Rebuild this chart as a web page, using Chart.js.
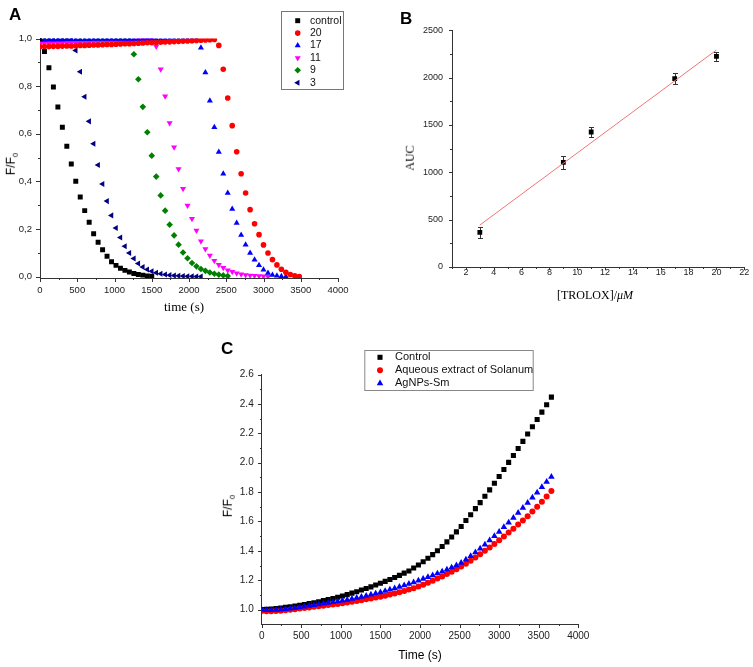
<!DOCTYPE html>
<html><head><meta charset="utf-8">
<script src="https://cdn.jsdelivr.net/npm/chart.js@4/dist/chart.umd.min.js"></script>
<style>
html,body{margin:0;padding:0;background:#fff;width:753px;height:667px;overflow:hidden;position:relative}
canvas{position:absolute}
.lbl{position:absolute;font-family:'Liberation Sans',Arial,sans-serif;font-weight:bold;font-size:17px;line-height:17px;color:#000}
.t{position:absolute;white-space:nowrap;color:#000;line-height:1.2}
.serif{font-family:'Liberation Serif','Times New Roman',serif}
.sans{font-family:'Liberation Sans',Arial,sans-serif}
.h{transform:translate(-50%,-50%)}
.v{transform:translate(-50%,-50%) rotate(-90deg)}
sub{font-size:65%;vertical-align:-0.35em;line-height:0}
</style></head><body>
<canvas id="cA" width="380" height="330" style="left:0;top:0"></canvas>
<canvas id="cB" width="373" height="330" style="left:380px;top:0"></canvas>
<canvas id="cC" width="400" height="332" style="left:200px;top:335px"></canvas>
<div class="lbl" style="left:9px;top:6px">A</div>
<div class="lbl" style="left:400px;top:10px">B</div>
<div class="lbl" style="left:221px;top:340px">C</div>
<div class="t serif h" style="left:184px;top:307px;font-size:13px">time (s)</div>
<div class="t sans v" style="left:11px;top:164px;font-size:12px">F/F<sub>0</sub></div>
<div class="t serif h" style="left:595px;top:295px;font-size:12px">[TROLOX]/<i>μM</i></div>
<div class="t serif v" style="left:410px;top:158px;font-size:12px">AUC</div>
<div class="t sans v" style="left:228px;top:506px;font-size:12px">F/F<sub>0</sub></div>
<div class="t sans h" style="left:420px;top:655px;font-size:12px">Time (s)</div>
<script>
const SANS = "'Liberation Sans', Arial, Helvetica, sans-serif";

// ---------- Panel A data ----------
const timeA = [0,60,120,180,240,300,360,420,480,540,600,660,720,780,840,900,960,1020,1080,1140,1200,1260,1320,1380,1440,1500,1560,1620,1680,1740,1800,1860,1920,1980,2040,2100,2160,2220,2280,2340,2400,2460,2520,2580,2640,2700,2760,2820,2880,2940,3000,3060,3120,3180,3240,3300,3360,3420,3480];
const ctrlA = [1.000,0.945,0.877,0.796,0.712,0.627,0.547,0.473,0.400,0.334,0.277,0.228,0.180,0.144,0.113,0.085,0.062,0.047,0.035,0.026,0.019,0.013,0.009,0.006,0.003,0.001];
const s20A = [0.965,0.966,0.966,0.967,0.967,0.968,0.969,0.969,0.970,0.971,0.971,0.972,0.973,0.973,0.974,0.975,0.975,0.976,0.977,0.978,0.978,0.979,0.980,0.981,0.982,0.982,0.983,0.984,0.985,0.986,0.987,0.988,0.989,0.990,0.991,0.992,0.993,0.994,0.995,0.996,
  0.971,0.871,0.750,0.634,0.524,0.432,0.351,0.281,0.222,0.176,0.133,0.099,0.071,0.049,0.031,0.018,0.009,0.003,0.000];
const s17A = [0.995,0.995,0.996,0.996,0.996,0.996,0.997,0.997,0.997,0.997,0.997,0.997,0.998,0.998,0.998,0.998,0.998,0.998,0.998,0.998,0.998,0.998,0.998,0.998,0.998,0.998,0.998,0.998,0.998,0.998,0.998,0.998,0.998,0.998,0.998,0.998,
  0.961,0.857,0.738,0.627,0.523,0.432,0.351,0.284,0.225,0.175,0.134,0.099,0.071,0.048,0.029,0.015,0.007,0.003,0.001,0.000];
const s11A = [0.978,0.978,0.979,0.979,0.980,0.980,0.981,0.981,0.982,0.982,0.983,0.983,0.984,0.985,0.985,0.986,0.987,0.988,0.989,0.990,0.991,0.992,0.993,0.994,0.995,0.996,
  0.966,0.871,0.757,0.645,0.543,0.452,0.369,0.299,0.243,0.193,0.148,0.116,0.088,0.066,0.050,0.037,0.027,0.020,0.014,0.010,0.007,0.005,0.003,0.002,0.001,0.000];
const s9A = [0.984,0.985,0.985,0.986,0.986,0.986,0.987,0.987,0.987,0.988,0.988,0.988,0.989,0.989,0.989,0.990,0.990,0.990,0.991,0.991,0.991,
  0.934,0.829,0.713,0.606,0.508,0.420,0.341,0.277,0.218,0.173,0.134,0.101,0.077,0.057,0.043,0.032,0.024,0.017,0.012,0.008,0.005,0.002];
const s3A = [0.993,0.993,0.994,0.994,0.994,0.995,0.995,0.995,
  0.950,0.860,0.755,0.652,0.558,0.469,0.389,0.317,0.257,0.204,0.164,0.127,0.099,0.076,0.055,0.040,0.030,0.022,0.016,0.012,0.009,0.006,0.004,0.003,0.002,0.001,0.001,0.000,0.000];
const ticksTimeA = [0,500,1000,1500,2000,2500,3000,3500,4000];
const minorTimeA = [250,750,1250,1750,2250,2750,3250,3750];
const ticksFA = [0,0.2,0.4,0.6,0.8,1.0];
const minorFA = [0.1,0.3,0.5,0.7,0.9];

// ---------- Panel B data ----------
const concB = [3,9,11,17,20];
const aucB = [366,1105,1426,1989,2225];
const errB = [55,65,48,58,50];
const fitXB = [3,20];
const fitYB = [443,2292];
const ticksConcB = [2,4,6,8,10,12,14,16,18,20,22];
const minorConcB = [1,3,5,7,9,11,13,15,17,19,21];
const ticksAucB = [0,500,1000,1500,2000,2500];
const minorAucB = [250,750,1250,1750,2250];

// ---------- Panel C data ----------
const timeC = [0,60,120,180,240,300,360,420,480,540,600,660,720,780,840,900,960,1020,1080,1140,1200,1260,1320,1380,1440,1500,1560,1620,1680,1740,1800,1860,1920,1980,2040,2100,2160,2220,2280,2340,2400,2460,2520,2580,2640,2700,2760,2820,2880,2940,3000,3060,3120,3180,3240,3300,3360,3420,3480,3540,3600,3660];
const ctrlC = [1.000,1.002,1.004,1.007,1.011,1.015,1.019,1.024,1.029,1.035,1.041,1.047,1.054,1.061,1.068,1.076,1.084,1.093,1.102,1.112,1.122,1.133,1.144,1.155,1.167,1.179,1.192,1.205,1.219,1.233,1.248,1.263,1.283,1.304,1.326,1.349,1.374,1.401,1.430,1.461,1.494,1.529,1.566,1.606,1.646,1.687,1.728,1.771,1.815,1.860,1.906,1.954,2.002,2.049,2.096,2.145,2.195,2.244,2.294,2.344,2.394,2.446];
const aqC = [0.990,0.988,0.988,0.990,0.993,0.996,0.999,1.003,1.007,1.011,1.015,1.019,1.023,1.027,1.031,1.035,1.039,1.043,1.048,1.053,1.058,1.064,1.070,1.076,1.082,1.088,1.095,1.102,1.110,1.118,1.127,1.136,1.146,1.157,1.169,1.182,1.196,1.211,1.226,1.242,1.258,1.275,1.293,1.312,1.333,1.355,1.377,1.400,1.423,1.447,1.472,1.498,1.524,1.551,1.579,1.607,1.636,1.668,1.700,1.734,1.770,1.808];
const agC = [1.000,0.997,0.996,0.998,1.000,1.003,1.007,1.011,1.016,1.021,1.026,1.031,1.036,1.041,1.046,1.051,1.056,1.061,1.067,1.073,1.080,1.087,1.094,1.102,1.110,1.118,1.127,1.136,1.145,1.155,1.165,1.175,1.186,1.197,1.209,1.221,1.233,1.246,1.259,1.273,1.287,1.302,1.319,1.340,1.364,1.390,1.416,1.443,1.471,1.500,1.530,1.561,1.592,1.625,1.659,1.692,1.727,1.762,1.797,1.834,1.870,1.904];
const ticksTimeC = [0,500,1000,1500,2000,2500,3000,3500,4000];
const minorTimeC = [250,750,1250,1750,2250,2750,3250,3750];
const ticksFC = [1.0,1.2,1.4,1.6,1.8,2.0,2.2,2.4,2.6];
const minorFC = [1.1,1.3,1.5,1.7,1.9,2.1,2.3,2.5];

// ---------- helpers ----------
function zip(xs, ys) { return ys.map((y, i) => ({x: xs[i], y: y})); }

const tickMarks = {
  id: 'tickMarks',
  afterDraw(chart, args, o) {
    if (!o || !o.axes) return;
    const ctx = chart.ctx, ca = chart.chartArea;
    ctx.save();
    ctx.strokeStyle = o.color || '#333';
    ctx.lineWidth = 1;
    Object.keys(o.axes).forEach(id => {
      const s = chart.scales[id], c = o.axes[id];
      const draw = (vals, len) => vals.forEach(v => {
        const p = Math.round(s.getPixelForValue(v)) + 0.5;
        ctx.beginPath();
        if (s.isHorizontal()) { const y = Math.round(ca.bottom); ctx.moveTo(p, y); ctx.lineTo(p, y + len); }
        else { const x = Math.round(ca.left); ctx.moveTo(x, p); ctx.lineTo(x - len, p); }
        ctx.stroke();
      });
      draw(s.ticks.map(t => t.value), c.major);
      draw(c.minor, c.minorLen);
    });
    ctx.restore();
  }
};

function symbol(ctx, ds, x, y) {
  ctx.fillStyle = ds.backgroundColor;
  ctx.strokeStyle = ds.borderColor;
  Chart.helpers.drawPoint(ctx, {pointStyle: ds.pointStyle, rotation: ds.pointRotation || 0, radius: ds.pointRadius, borderWidth: 0}, x, y);
}

const boxLegend = {
  id: 'boxLegend',
  afterDraw(chart, args, o) {
    if (!o || !o.items) return;
    const ctx = chart.ctx;
    ctx.save();
    ctx.fillStyle = '#fff';
    ctx.fillRect(o.x, o.y, o.w, o.h);
    ctx.strokeStyle = o.border || '#777';
    ctx.lineWidth = 1;
    ctx.strokeRect(o.x + 0.5, o.y + 0.5, o.w, o.h);
    ctx.font = o.font;
    ctx.textBaseline = 'middle';
    ctx.textAlign = 'left';
    o.items.forEach((idx, i) => {
      const ds = chart.data.datasets[idx];
      const y = o.y0 + i * o.dy;
      symbol(ctx, ds, o.symX, y);
      ctx.fillStyle = '#111';
      ctx.fillText(ds.label, o.textX, y);
    });
    ctx.restore();
  }
};

const errBars = {
  id: 'errBars',
  beforeDatasetsDraw(chart, args, o) {
    if (!o || !o.err) return;
    const ctx = chart.ctx, ys = chart.scales.y;
    const meta = chart.getDatasetMeta(o.dataset);
    const ds = chart.data.datasets[o.dataset];
    ctx.save();
    ctx.strokeStyle = o.color; ctx.lineWidth = 1;
    meta.data.forEach((pt, i) => {
      const v = ds.data[i].y, e = o.err[i];
      const x = Math.round(pt.x) + 0.5;
      const y1 = Math.round(ys.getPixelForValue(v + e)) + 0.5, y2 = Math.round(ys.getPixelForValue(v - e)) + 0.5;
      ctx.beginPath();
      ctx.moveTo(x, y1); ctx.lineTo(x, y2);
      ctx.moveTo(x - o.cap, y1); ctx.lineTo(x + o.cap, y1);
      ctx.moveTo(x - o.cap, y2); ctx.lineTo(x + o.cap, y2);
      ctx.stroke();
    });
    ctx.restore();
  }
};

function axis(o) {
  return {
    type: 'linear', position: o.pos, min: o.min, max: o.max,
    afterBuildTicks: s => { s.ticks = o.ticks.map(v => ({value: v})); },
    afterFit: s => { if (o.pos === 'bottom') s.height = o.size; else s.width = o.size; },
    grid: {display: true, drawOnChartArea: false, drawTicks: false},
    border: {display: true, color: '#333', width: 1},
    ticks: {padding: o.pad, color: '#222', font: {family: SANS, size: o.fs}, callback: o.fmt, maxRotation: 0, minRotation: 0, autoSkip: false},
    title: {display: false}
  };
}

function baseOpts(padding, scales, plugins) {
  return {
    animation: false, responsive: false, devicePixelRatio: 1, events: [],
    layout: {padding: padding},
    scales: scales,
    plugins: Object.assign({legend: {display: false}, tooltip: {enabled: false}}, plugins)
  };
}

function pts(label, data, style, r, color, rot) {
  return {label: label, data: data, showLine: false, pointStyle: style, pointRadius: r, pointRotation: rot || 0,
    backgroundColor: color, borderColor: color, pointBorderWidth: 0};
}

// ---------- Chart A ----------
new Chart(document.getElementById('cA'), {
  type: 'scatter',
  data: {datasets: [
    pts('control', zip(timeA, ctrlA), 'rect', 3.5, '#000000'),
    pts('20', zip(timeA, s20A), 'circle', 2.8, '#ff0000'),
    pts('17', zip(timeA, s17A), 'triangle', 3.5, '#0000ff'),
    pts('11', zip(timeA, s11A), 'triangle', 3.5, '#ff00ff', 180),
    pts('9', zip(timeA, s9A), 'rectRot', 3.3, '#008000'),
    pts('3', zip(timeA, s3A), 'triangle', 3.5, '#000080', -90)
  ]},
  options: baseOpts({left: 0, top: 38.5, right: 42, bottom: 0}, {
    x: axis({pos: 'bottom', min: 0, max: 4000, ticks: ticksTimeA, size: 52, pad: 7, fs: 9.5, fmt: v => String(v)}),
    y: axis({pos: 'left', min: -0.006, max: 1.0, ticks: ticksFA, size: 40, pad: 8, fs: 9.5, fmt: v => v.toFixed(1).replace('.', ',')})
  }, {
    tickMarks: {color: '#333', axes: {x: {major: 4, minor: minorTimeA, minorLen: 2}, y: {major: 4, minor: minorFA, minorLen: 2}}},
    boxLegend: {x: 281, y: 11, w: 62, h: 78, y0: 20.7, dy: 12.4, symX: 297.7, textX: 310, font: '10.5px ' + SANS, border: '#777', items: [0,1,2,3,4,5]}
  }),
  plugins: [tickMarks, boxLegend]
});

// ---------- Chart B ----------
new Chart(document.getElementById('cB'), {
  type: 'scatter',
  data: {datasets: [
    {label: 'fit', data: zip(fitXB, fitYB), showLine: true, pointRadius: 0, borderColor: '#f07575', borderWidth: 1, backgroundColor: '#f07575'},
    pts('AUC', zip(concB, aucB), 'rect', 3.4, '#000000')
  ]},
  options: baseOpts({left: 0, top: 30.3, right: 8.7, bottom: 0}, {
    x: axis({pos: 'bottom', min: 1, max: 22, ticks: ticksConcB, size: 63, pad: 0, fs: 9, fmt: v => String(v)}),
    y: axis({pos: 'left', min: 0, max: 2500, ticks: ticksAucB, size: 72, pad: 9, fs: 9, fmt: v => String(v)})
  }, {
    tickMarks: {color: '#333', axes: {x: {major: 3, minor: minorConcB, minorLen: 2}, y: {major: 3, minor: minorAucB, minorLen: 2}}},
    errBars: {dataset: 1, err: errB, color: '#333', cap: 2.5}
  }),
  plugins: [errBars, tickMarks]
});

// ---------- Chart C ----------
const dsC = [
  Object.assign(pts('Control', zip(timeC, ctrlC), 'rect', 3.6, '#000000'), {order: 3}),
  Object.assign(pts('Aqueous extract of Solanum', zip(timeC, aqC), 'circle', 3.0, '#ff0000'), {order: 2}),
  Object.assign(pts('AgNPs-Sm', zip(timeC, agC), 'triangle', 3.8, '#0000ff'), {order: 1})
];
new Chart(document.getElementById('cC'), {
  type: 'scatter',
  data: {datasets: dsC},
  options: baseOpts({left: 0, top: 39.5, right: 21.7, bottom: 0}, {
    x: axis({pos: 'bottom', min: 0, max: 4000, ticks: ticksTimeC, size: 42.7, pad: 6, fs: 10, fmt: v => String(v)}),
    y: axis({pos: 'left', min: 0.9, max: 2.6, ticks: ticksFC, size: 61.7, pad: 8, fs: 10, fmt: v => v.toFixed(1)})
  }, {
    tickMarks: {color: '#333', axes: {x: {major: 4, minor: minorTimeC, minorLen: 2}, y: {major: 4, minor: minorFC, minorLen: 2}}},
    boxLegend: {x: 164.3, y: 15, w: 168.4, h: 40, y0: 22.3, dy: 13, symX: 180, textX: 195, font: '11px ' + SANS, border: '#888', items: [0,1,2]}
  }),
  plugins: [tickMarks, boxLegend]
});
</script>
</body></html>
